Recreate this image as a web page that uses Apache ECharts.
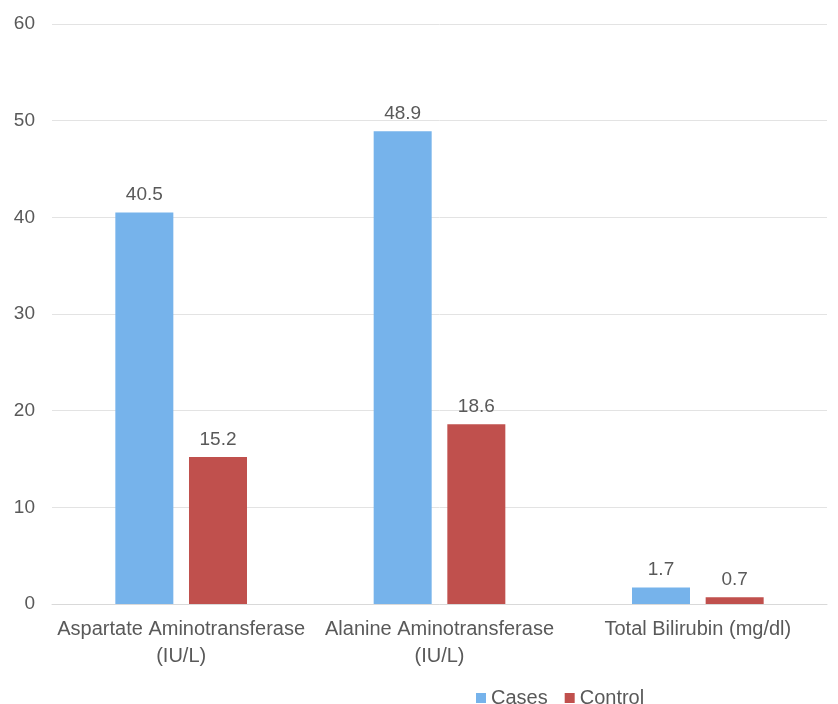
<!DOCTYPE html>
<html>
<head>
<meta charset="utf-8">
<script src="https://cdn.jsdelivr.net/npm/echarts@6/dist/echarts.min.js"></script>
<style>
  html, body { margin: 0; padding: 0; background: #fff; }
  #chart { width: 838px; height: 704px; }
</style>
</head>
<body>
<div id="chart"></div>
<script>
// values
const categories = ['Aspartate Aminotransferase\n(IU/L)', 'Alanine Aminotransferase\n(IU/L)', 'Total Bilirubin (mg/dl)'];
const casesValues = [40.5, 48.9, 1.7];
const controlValues = [15.2, 18.6, 0.7];
const seriesNames = ['Cases', 'Control'];

const chart = echarts.init(document.getElementById('chart'));
const font = 'Liberation Sans, Arial, sans-serif';
const textColor = '#595959';

const label = {
  show: true,
  position: 'top',
  distance: 8,
  color: textColor,
  fontSize: 19,
  fontFamily: font,
};

chart.setOption({
  backgroundColor: '#fff',
  animation: false,
  textStyle: { fontFamily: font },
  grid: { left: 52, right: 11, top: 24, bottom: 100, containLabel: false },
  legend: {
    data: seriesNames,
    left: 471,
    top: 683,
    itemWidth: 10,
    itemHeight: 10,
    itemGap: 17,
    icon: 'rect',
    textStyle: { color: textColor, fontSize: 20, fontFamily: font },
  },
  xAxis: {
    type: 'category',
    data: categories,
    axisLine: { lineStyle: { color: '#d9d9d9', width: 1 } },
    axisTick: { show: false },
    axisLabel: { color: textColor, fontSize: 20, fontFamily: font, margin: 12, lineHeight: 27, interval: 0 },
  },
  yAxis: {
    type: 'value',
    min: 0,
    max: 60,
    interval: 10,
    axisLine: { show: false },
    axisTick: { show: false },
    splitLine: { lineStyle: { color: '#e3e3e3', width: 1 } },
    axisLabel: { color: textColor, fontSize: 19, fontFamily: font, margin: 17 },
  },
  series: [
    {
      name: seriesNames[0],
      type: 'bar',
      data: casesValues,
      barWidth: 58,
      barGap: '27%',
      itemStyle: { color: '#76b3eb' },
      label,
    },
    {
      name: seriesNames[1],
      type: 'bar',
      data: controlValues,
      barWidth: 58,
      itemStyle: { color: '#c0504d' },
      label,
    },
  ],
});
</script>
</body>
</html>
